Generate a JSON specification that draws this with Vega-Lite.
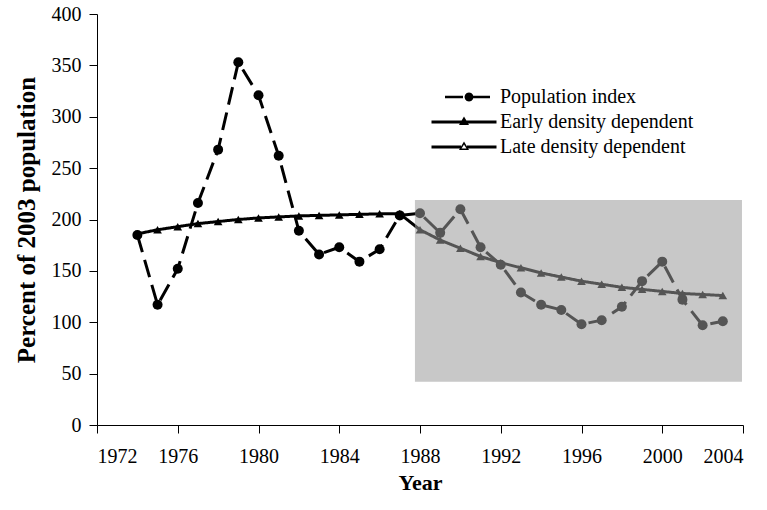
{
  "$schema": "https://vega.github.io/schema/vega-lite/v6.json",
  "autosize": {"type": "none"},
  "width": 646,
  "height": 411,
  "padding": {"left": 97, "top": 14, "right": 24, "bottom": 85},
  "background": "white",
  "config": {
    "view": {"stroke": null},
    "font": "Liberation Serif",
    "axis": {
      "grid": false,
      "domainColor": "black",
      "domainWidth": 1,
      "tickColor": "black",
      "tickWidth": 1,
      "tickSize": 8,
      "labelFont": "Liberation Serif",
      "labelColor": "black",
      "labelFontSize": 20,
      "titleFont": "Liberation Serif",
      "titleColor": "black",
      "titleFontWeight": "bold"
    },
    "legend": {
      "orient": "none",
      "labelFont": "Liberation Serif",
      "labelFontSize": 20,
      "labelColor": "black",
      "labelLimit": 400,
      "labelOffset": 26,
      "symbolSize": 400,
      "symbolFillColor": "black",
      "symbolStrokeColor": "transparent",
      "symbolStrokeWidth": 0,
      "symbolOpacity": 1,
      "padding": 0
    }
  },
  "datasets": {
    "series": [
      {"year": 1974, "value": 185, "series": "Population index"},
      {"year": 1975, "value": 117, "series": "Population index"},
      {"year": 1976, "value": 152, "series": "Population index"},
      {"year": 1977, "value": 216, "series": "Population index"},
      {"year": 1978, "value": 268, "series": "Population index"},
      {"year": 1979, "value": 353, "series": "Population index"},
      {"year": 1980, "value": 321, "series": "Population index"},
      {"year": 1981, "value": 262, "series": "Population index"},
      {"year": 1982, "value": 189, "series": "Population index"},
      {"year": 1983, "value": 166, "series": "Population index"},
      {"year": 1984, "value": 173, "series": "Population index"},
      {"year": 1985, "value": 159, "series": "Population index"},
      {"year": 1986, "value": 171, "series": "Population index"},
      {"year": 1987, "value": 204, "series": "Population index"},
      {"year": 1988, "value": 206, "series": "Population index"},
      {"year": 1989, "value": 187, "series": "Population index"},
      {"year": 1990, "value": 210, "series": "Population index"},
      {"year": 1991, "value": 173, "series": "Population index"},
      {"year": 1992, "value": 156, "series": "Population index"},
      {"year": 1993, "value": 129, "series": "Population index"},
      {"year": 1994, "value": 117, "series": "Population index"},
      {"year": 1995, "value": 112, "series": "Population index"},
      {"year": 1996, "value": 98, "series": "Population index"},
      {"year": 1997, "value": 102, "series": "Population index"},
      {"year": 1998, "value": 115, "series": "Population index"},
      {"year": 1999, "value": 140, "series": "Population index"},
      {"year": 2000, "value": 159, "series": "Population index"},
      {"year": 2001, "value": 122, "series": "Population index"},
      {"year": 2002, "value": 97, "series": "Population index"},
      {"year": 2003, "value": 101, "series": "Population index"},
      {"year": 1974, "value": 186, "series": "Early density dependent"},
      {"year": 1975, "value": 190, "series": "Early density dependent"},
      {"year": 1976, "value": 193, "series": "Early density dependent"},
      {"year": 1977, "value": 196, "series": "Early density dependent"},
      {"year": 1978, "value": 198, "series": "Early density dependent"},
      {"year": 1979, "value": 200, "series": "Early density dependent"},
      {"year": 1980, "value": 201.5, "series": "Early density dependent"},
      {"year": 1981, "value": 202.5, "series": "Early density dependent"},
      {"year": 1982, "value": 203.5, "series": "Early density dependent"},
      {"year": 1983, "value": 204, "series": "Early density dependent"},
      {"year": 1984, "value": 204.5, "series": "Early density dependent"},
      {"year": 1985, "value": 205, "series": "Early density dependent"},
      {"year": 1986, "value": 205.5, "series": "Early density dependent"},
      {"year": 1987, "value": 205.5, "series": "Early density dependent"},
      {"year": 1987, "value": 205.5, "series": "Late density dependent"},
      {"year": 1988, "value": 190, "series": "Late density dependent"},
      {"year": 1989, "value": 180, "series": "Late density dependent"},
      {"year": 1990, "value": 172, "series": "Late density dependent"},
      {"year": 1991, "value": 164, "series": "Late density dependent"},
      {"year": 1992, "value": 158, "series": "Late density dependent"},
      {"year": 1993, "value": 153, "series": "Late density dependent"},
      {"year": 1994, "value": 148, "series": "Late density dependent"},
      {"year": 1995, "value": 144, "series": "Late density dependent"},
      {"year": 1996, "value": 140, "series": "Late density dependent"},
      {"year": 1997, "value": 137, "series": "Late density dependent"},
      {"year": 1998, "value": 134, "series": "Late density dependent"},
      {"year": 1999, "value": 132, "series": "Late density dependent"},
      {"year": 2000, "value": 130, "series": "Late density dependent"},
      {"year": 2001, "value": 128, "series": "Late density dependent"},
      {"year": 2002, "value": 127, "series": "Late density dependent"},
      {"year": 2003, "value": 126, "series": "Late density dependent"}
    ],
    "shade": [
      {"year": 1987.75, "year2": 2003.95, "value": 42, "value2": 219}
    ]
  },
  "layer": [
    {
      "data": {"name": "series"},
      "mark": {"type": "line", "color": "black", "strokeWidth": 3},
      "encoding": {
        "x": {
          "field": "year", "type": "quantitative", "title": "Year",
          "scale": {"domain": [1972, 2004], "nice": false, "zero": false},
          "axis": {"values": [1972, 1976, 1980, 1984, 1988, 1992, 1996, 2000, 2004], "format": "d", "labelPadding": 13, "titleFontSize": 22, "titlePadding": 6}
        },
        "y": {
          "field": "value", "type": "quantitative", "title": "Percent of 2003 population",
          "scale": {"domain": [0, 400], "nice": false},
          "axis": {"values": [0, 50, 100, 150, 200, 250, 300, 350, 400], "labelPadding": 8, "titleFontSize": 25, "titlePadding": 12}
        },
        "detail": {"field": "series", "type": "nominal"},
        "strokeDash": {
          "condition": {"test": "datum.series === 'Population index'", "value": [18, 8]},
          "value": [1, 0]
        }
      }
    },
    {
      "data": {"name": "series"},
      "transform": [{"filter": "datum.series === 'Population index'"}],
      "mark": {"type": "point", "filled": true, "color": "black", "shape": "circle", "size": 100},
      "encoding": {
        "x": {"field": "year", "type": "quantitative", "title": "Year"},
        "y": {"field": "value", "type": "quantitative", "title": "Percent of 2003 population"},
        "opacity": {
          "field": "series", "type": "ordinal",
          "scale": {"domain": ["Population index"], "range": [1]},
          "legend": {
            "title": null,
            "legendX": 357, "legendY": 73,
            "symbolType": "M-1.9,-0.12L-0.1,-0.12L-0.1,0.12L-1.9,0.12Z M0.9,-0.12L2.6,-0.12L2.6,0.12L0.9,0.12Z M0.95,0L0.89,0.225L0.725,0.39L0.5,0.45L0.275,0.39L0.11,0.225L0.05,0L0.11,-0.225L0.275,-0.39L0.5,-0.45L0.725,-0.39L0.89,-0.225Z"
          }
        }
      }
    },
    {
      "data": {"name": "series"},
      "transform": [{"filter": "datum.series === 'Early density dependent'"}],
      "mark": {"type": "point", "filled": true, "shape": "triangle-up", "size": 75, "opacity": 1},
      "encoding": {
        "x": {"field": "year", "type": "quantitative", "title": "Year"},
        "y": {"field": "value", "type": "quantitative", "title": "Percent of 2003 population"},
        "fill": {
          "field": "series", "type": "nominal",
          "scale": {"domain": ["Early density dependent"], "range": ["black"]},
          "legend": {
            "title": null,
            "legendX": 357, "legendY": 98,
            "symbolType": "M-3.25,-0.15L3.25,-0.15L3.25,0.15L-3.25,0.15Z M0,-0.55L0.5,0.3L-0.5,0.3Z"
          }
        }
      }
    },
    {
      "data": {"name": "series"},
      "transform": [{"filter": "datum.series === 'Late density dependent'"}],
      "mark": {"type": "point", "filled": true, "color": "black", "shape": "triangle-up", "size": 75, "opacity": 1},
      "encoding": {
        "x": {"field": "year", "type": "quantitative", "title": "Year"},
        "y": {"field": "value", "type": "quantitative", "title": "Percent of 2003 population"},
        "strokeDash": {
          "field": "series", "type": "nominal",
          "scale": {"domain": ["Late density dependent"], "range": [[1, 0]]},
          "legend": {
            "title": null,
            "legendX": 357, "legendY": 123,
            "symbolType": "M-3.25,-0.15L-0.3,-0.15L-0.3,0.15L-3.25,0.15Z M0.3,-0.15L3.25,-0.15L3.25,0.15L0.3,0.15Z M0,-0.55L0.5,0.3L-0.5,0.3Z M0,-0.25L-0.25,0.15L0.25,0.15Z"
          }
        }
      }
    },
    {
      "data": {"name": "shade"},
      "mark": {"type": "rect", "fill": "#9b9b9b", "opacity": 0.55},
      "encoding": {
        "x": {"field": "year", "type": "quantitative", "title": "Year"},
        "x2": {"field": "year2"},
        "y": {"field": "value", "type": "quantitative", "title": "Percent of 2003 population"},
        "y2": {"field": "value2"}
      }
    }
  ]
}
